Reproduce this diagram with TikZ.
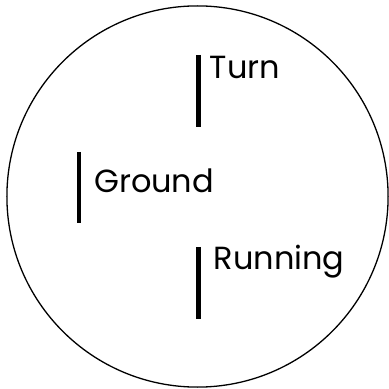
\documentclass[tikz,border=0pt]{standalone}
\usepackage{fontspec}
\setmainfont{Poppins}
\begin{document}
\begin{tikzpicture}[x=1pt,y=1pt,
  lbl/.style={anchor=base west,inner sep=0pt,font=\fontsize{32}{38}\selectfont},
  bar/.style={line width=4.5pt}]
\useasboundingbox (0,0) rectangle (389,389);
\draw[line width=1.3pt] (197.5,192.5) circle (190.6);
\coordinate (t1) at (198.7,334);
\coordinate (t2) at (198.7,262);
\coordinate (g1) at (79,237);
\coordinate (g2) at (79,166);
\coordinate (r1) at (198.7,142);
\coordinate (r2) at (198.7,70);
\draw[bar] (t1) -- (t2);
\draw[bar] (g1) -- (g2);
\draw[bar] (r1) -- (r2);
\node[lbl] (turn) at (209.5,310.7) {Turn};
\node[lbl] (ground) at (94,196.3) {Ground};
\node[lbl] (running) at (213.5,119) {Running};
\end{tikzpicture}
\end{document}
